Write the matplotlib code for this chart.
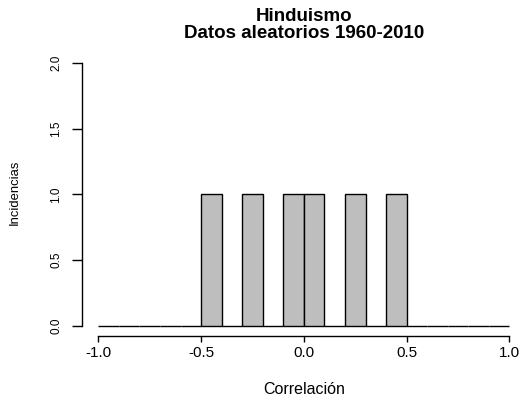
import numpy as np
import matplotlib
matplotlib.use('Agg')
import matplotlib.pyplot as plt

plt.rcParams['font.family'] = ['Liberation Sans', 'DejaVu Sans']

# Histogram data (bins of width 0.1 from -1 to 1)
bin_edges = np.round(np.arange(-1.0, 1.0001, 0.1), 2)
counts = [0, 0, 0, 0, 0, 1, 0, 1, 0, 1, 1, 0, 1, 0, 1, 0, 0, 0, 0, 0]
x_ticks = [-1.0, -0.5, 0.0, 0.5, 1.0]
x_ticklabels = ['-1.0', '-0.5', '0.0', '0.5', '1.0']
y_ticks = [0.0, 0.5, 1.0, 1.5, 2.0]
y_ticklabels = ['0.0', '0.5', '1.0', '1.5', '2.0']

fig = plt.figure(figsize=(5.25, 3.98), dpi=100)
ax = fig.add_axes([0.156, 0.1553, 0.844, 0.7128])

ax.bar(bin_edges[:-1], counts, width=0.1, align='edge',
       color='#BEBEBE', edgecolor='black', linewidth=1.0)

ax.set_xlim(-1.08, 1.076)
ax.set_ylim(-0.08, 2.08)

# R-style detached axes
for s in ['top', 'right']:
    ax.spines[s].set_visible(False)
ax.spines['left'].set_bounds(0, 2)
ax.spines['bottom'].set_bounds(-1, 1)
ax.spines['left'].set_linewidth(1.0)
ax.spines['bottom'].set_linewidth(1.0)

ax.set_xticks(x_ticks)
ax.set_xticklabels(x_ticklabels, fontsize=11)
ax.set_yticks(y_ticks)
ax.set_yticklabels(y_ticklabels, fontsize=8.5, rotation=90, va='center')
ax.tick_params(axis='x', length=4.3, width=1.0, pad=3)
ax.tick_params(axis='y', length=7.2, width=1.0, pad=7)

fig.text(0.579, 0.9585, 'Hinduismo', ha='center', va='center',
         fontsize=13.5, fontweight='bold')
fig.text(0.579, 0.917, 'Datos aleatorios 1960-2010', ha='center', va='center',
         fontsize=13.5, fontweight='bold')
fig.text(0.579, 0.0226, 'Correlación', ha='center', va='center', fontsize=11.5)
fig.text(0.0286, 0.516, 'Incidencias', ha='center', va='center',
         rotation=90, fontsize=9.4)

plt.savefig('out.png', dpi=100)
